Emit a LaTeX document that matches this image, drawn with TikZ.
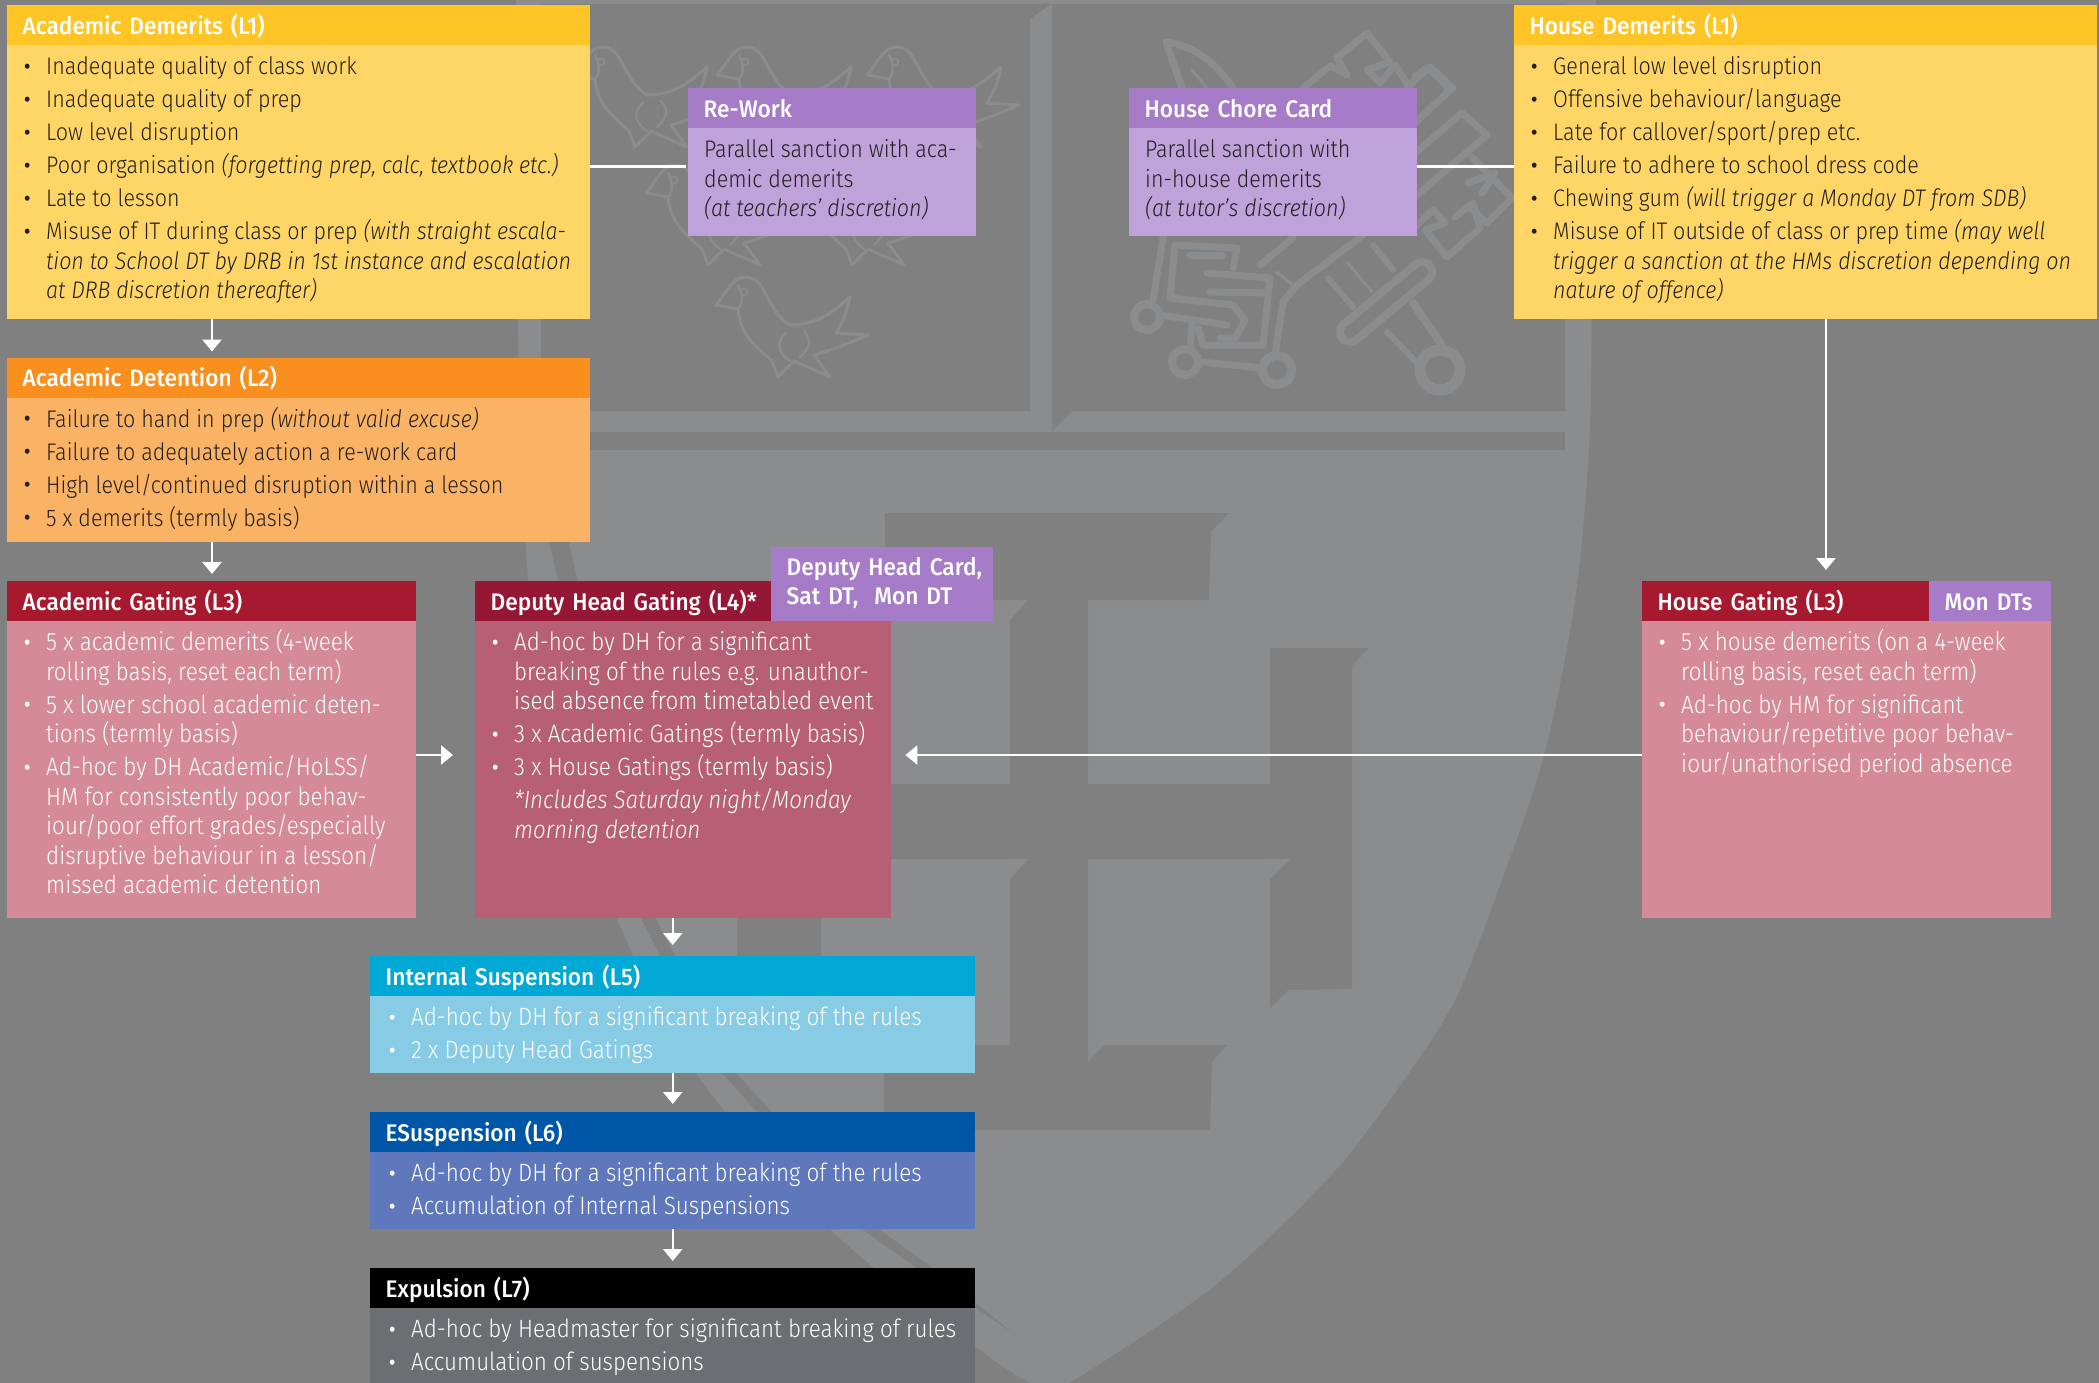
\documentclass[tikz,border=0pt]{standalone}
\usepackage{fontspec}
\setmainfont{Fira Sans Light}[ItalicFont={Fira Sans Light Italic},FakeStretch=0.895]
\newfontfamily\titlefont{Fira Sans Medium}[FakeStretch=0.945]
\usetikzlibrary{arrows.meta}
\definecolor{bgdark}{HTML}{808080}
\definecolor{bglight}{HTML}{8B8C8E}
\definecolor{inkdark}{HTML}{231F20}
\definecolor{yellowH}{HTML}{FFC425}
\definecolor{yellowB}{HTML}{FFD566}
\definecolor{orangeH}{HTML}{F98F1E}
\definecolor{orangeB}{HTML}{FAB264}
\definecolor{redH}{HTML}{A6192E}
\definecolor{redB}{HTML}{D58B97}
\definecolor{wineH}{HTML}{961735}
\definecolor{wineB}{HTML}{B75F75}
\definecolor{cyanH}{HTML}{00A8D6}
\definecolor{cyanB}{HTML}{87CBE5}
\definecolor{navyH}{HTML}{0056A6}
\definecolor{navyB}{HTML}{5E78BB}
\definecolor{blackB}{HTML}{6D6E71}
\definecolor{purpH}{HTML}{A67BC8}
\definecolor{purpB}{HTML}{BFA2DA}
\newcommand{\bodyfs}{\fontsize{24}{29.5}\selectfont}
\newcommand{\whitefs}{\color{white}\fontsize{25}{29.5}\selectfont}
\newcommand{\blist}[4]{% height, width, left indent, content
  \parbox[t][#1][t]{#2}{\raggedright\bodyfs\setlength{\leftskip}{#3}\setlength{\parskip}{3.5pt}\lineskiplimit=-100pt
  \setlength{\parindent}{0pt}#4}}
\newcommand{\firstline}{\rule{0pt}{26pt}}
\newcommand{\bul}{\leavevmode\llap{\makebox[0pt][c]{\raisebox{1.5pt}{\titlefont\fontsize{20}{20}\selectfont\textbullet}}\hskip 19pt}}
\newcommand{\fbul}{\firstline\bul}
\tikzset{
  hdr/.style={rectangle,anchor=north west,inner ysep=0pt,inner xsep=15.5pt,minimum height=40pt,text=white,
    font=\titlefont\fontsize{24}{29}\selectfont,text height=22pt,text depth=4pt,align=left},
  bodyb/.style={rectangle,anchor=north west,inner sep=0pt},
  conn/.style={draw=white,line width=2.6pt},
  arr/.style={draw=white,line width=2.4pt,-{Triangle[width=19pt,length=12pt,fill=white]}},
  crest/.style={draw=bglight,line width=7pt,line join=round,line cap=round,fill=none},
  thincrest/.style={draw=bglight,line width=3pt,line join=round,line cap=round,fill=none},
  dk/.style={fill=bgdark,draw=none}
}
\newcommand{\bird}[2]{%
\begin{scope}[shift={(#1,#2)}]
\draw[thincrest] (0,0) .. controls (-14,0) and (-18,14) .. (-30,28) -- (-8,32) .. controls (-6,60) and (14,72) .. (26,84) -- (32,100) -- (48,84) -- (84,100) -- (68,78) .. controls (96,70) and (112,62) .. (122,58) -- (90,56) .. controls (98,44) and (102,30) .. (104,20) .. controls (88,34) and (72,48) .. (44,48) .. controls (30,40) and (24,24) .. (18,14) .. controls (14,6) and (8,0) .. (0,0);
\draw[thincrest,line width=2pt] (-2,15) circle (3.5pt);
\draw[thincrest,line width=2.5pt] (-8,32) .. controls (-2,26) and (-4,16) .. (-8,8);
\draw[thincrest,line width=2.5pt] (40,56) .. controls (28,66) and (34,78) .. (44,84);
\draw[thincrest,line width=2.5pt] (58,54) .. controls (66,62) and (64,72) .. (54,80);
\end{scope}}
\begin{document}
\begin{tikzpicture}[x=1pt,y=-1pt]
\useasboundingbox (0,0) rectangle (2099,1383);
\fill[bgdark] (0,0) rectangle (2099,1383);
% shield
\fill[bglight] plot[smooth] coordinates {(516,-5) (516,200) (520,400) (530,600) (560,760) (616,917) (696,1073) (830,1229) (980,1350) (1030,1383) (1050,1393)} -- plot[smooth] coordinates {(1050,1393) (1070,1383) (1147,1333) (1213,1287) (1280,1227) (1347,1157) (1413,1067) (1455,1000) (1492,907) (1543,759) (1575,600) (1589,448) (1592,300) (1596,-5)} -- cycle;
\path[dk] (541,4) -- (1051,4) -- (1030,19) -- (1030,411) -- (541,411) -- cycle;
\path[dk] (1052,4) -- (1565,4) -- (1565,411) -- (1072,411) -- (1052,431) -- cycle;
\path[dk] (541,432) rectangle (1565,450);
% inner stripe
\path[dk] (546,530) -- (640,917) -- (722,1073) -- (757,1112) -- (862,1229) -- (915,1267) -- (1013,1333) -- (925,1262) -- (878,1229) -- (772,1112) -- (736,1073) -- (655,917) -- (566,530) -- cycle;
% cross
\path[dk] (885,513) -- (1229,513) -- (1211,532) -- (1209,600) -- (1088,600) -- (1088,784) -- (1270,784) -- (1270,648) -- (1369,648) -- (1352,666) -- (1352,989) -- (1288,990) -- (1270,1008) -- (1270,859) -- (1088,859) -- (1088,1045) -- (1227,1045) -- (1212,1062) -- (1210,1130) -- (884,1130) -- (884,1045) -- (1010,1045) -- (1010,859) -- (821,859) -- (821,960) -- (737,960) -- (737,784) -- (1010,784) -- (1010,600) -- (885,600) -- cycle;
\fill[bglight] (1088,784) -- (1088,768) -- (1104,784) -- cycle;
\fill[bglight] (1088,1045) -- (1088,1062) -- (1104,1045) -- cycle;
\fill[bglight] (1010,600) -- (1010,620) -- (1028,600) -- cycle;
\fill[bglight] (1010,859) -- (1010,879) -- (1028,859) -- cycle;
\fill[bglight] (1270,859) -- (1270,879) -- (1290,859) -- cycle;
% birds
\bird{603}{47}\bird{747}{47}\bird{897}{47}\bird{676}{165}\bird{820}{165}\bird{746}{277}
% crossed sword and key: upper part
\draw[crest] (1182,88) -- (1166,42) .. controls (1195,46) and (1215,62) .. (1233,88);
\draw[thincrest] (1192,70) -- (1207,88);
\draw[crest] (1303,88) -- (1330,66) -- (1347,75) -- (1337,58) -- (1367,33) -- (1390,62) -- (1367,70) -- (1380,83) -- (1395,65) -- (1410,88);
\draw[crest] (1407,87) -- (1430,67) -- (1453,88);
\draw[crest] (1415,77) -- (1428,67) -- (1450,90) -- (1415,123);
\draw[crest] (1415,153) -- (1462,113) -- (1487,135) -- (1415,197);
\draw[crest] (1472,157) -- (1512,198) -- (1487,223) -- (1470,207);
\draw[crest] (1468,183) -- (1495,173) -- (1482,193);
\draw[crest] (1455,217) -- (1473,203) -- (1480,228) -- (1447,257) -- (1425,230) -- (1445,223) -- (1433,210) -- (1415,227);
% sword guard, pommel
\draw[draw=bglight,line width=28pt,line cap=round] (1350,332) -- (1422,272);
\draw[draw=bgdark,line width=12pt,line cap=round] (1350,332) -- (1422,272);
\draw[bglight,line width=11pt] (1440,370) circle (20pt);
\draw[crest,line width=6pt] (1387,332) -- (1417,363);
\draw[crest,line width=8pt] (1413,303) -- (1442,345);
\draw[crest,line width=6pt] (1373,245) -- (1393,270);
\draw[crest,line width=6pt] (1328,278) -- (1353,307);
\draw[thincrest] (1347,262) -- (1372,292);
% key shaft and meander
\draw[crest] (1363,235) -- (1297,285) -- (1283,302) -- (1275,355);
\draw[crest] (1260,265) -- (1293,238);
\draw[thincrest] (1277,272) -- (1295,287);
\draw[bglight,line width=9pt] (1277,370) circle (14.5pt);
\draw[bglight,line width=8pt] (1147,317) circle (13pt);
\draw[bglight,line width=8pt] (1185,362) circle (13pt);
\draw[crest] (1153,300) -- (1163,238);
\draw[crest] (1160,315) -- (1227,325);
\draw[crest] (1192,325) -- (1190,348);
\draw[crest] (1200,362) -- (1263,368);
\draw[crest] (1233,268) -- (1237,248) -- (1175,245) -- (1170,298) -- (1233,305) -- (1245,320) -- (1235,338) -- (1220,338);
\draw[crest] (1190,255) -- (1223,255);
\draw[crest] (1207,273) -- (1270,278) -- (1263,345) -- (1203,345) -- (1198,328);
\draw[crest] (1210,292) -- (1268,293);
% helper coordinates for connectors
\coordinate (rowA) at (0,166.5);
\coordinate (rowB) at (0,755);
\coordinate (colA) at (212,0);
\coordinate (colH) at (1826,0);
% boxes
\node[hdr,fill=yellowH,text width=552pt] (adh) at (7,5) {Academic Demerits (L1)};
\node[bodyb,fill=yellowB] (adb) at (7,45) {\blist{274pt}{583pt}{39pt}{\color{inkdark}
\fbul Inadequate quality of class work\par
\bul Inadequate quality of prep\par
\bul Low level disruption\par
\bul Poor organisation \textit{(forgetting prep, calc, textbook etc.)}\par
\bul Late to lesson\par
\bul Misuse of IT during class or prep \textit{(with straight escala-\\
tion to School DT by DRB in 1st instance and escalation\\
at DRB discretion thereafter)}}};
\node[hdr,fill=orangeH,text width=552pt] (deth) at (7,357.5) {Academic Detention (L2)};
\node[bodyb,fill=orangeB] (detb) at (7,397.5) {\blist{144.5pt}{583pt}{39pt}{\color{inkdark}
\fbul Failure to hand in prep \textit{(without valid excuse)}\par
\bul Failure to adequately action a re-work card\par
\bul High level/continued disruption within a lesson\par
\bul 5 x demerits (termly basis)}};
\node[hdr,fill=purpH,text width=257pt] (rwh) at (688,88) {Re-Work};
\node[bodyb,fill=purpB] (rwb) at (688,128) {\blist{108pt}{288pt}{16pt}{\color{inkdark}
\firstline Parallel sanction with aca-\\
demic demerits\\
\textit{(at teachers’ discretion)}}};
\node[hdr,fill=purpH,text width=257pt] (hch) at (1129,88) {House Chore Card};
\node[bodyb,fill=purpB] (hcb) at (1129,128) {\blist{108pt}{288pt}{16pt}{\color{inkdark}
\firstline Parallel sanction with\\
in-house demerits\\
\textit{(at tutor’s discretion)}}};
\node[hdr,fill=yellowH,text width=552pt] (hdh) at (1514,5) {House Demerits (L1)};
\node[bodyb,fill=yellowB] (hdb) at (1514,45) {\blist{274pt}{583pt}{39pt}{\color{inkdark}
\fbul General low level disruption\par
\bul Offensive behaviour/language\par
\bul Late for callover/sport/prep etc.\par
\bul Failure to adhere to school dress code\par
\bul Chewing gum \textit{(will trigger a Monday DT from SDB)}\par
\bul Misuse of IT outside of class or prep time \textit{(may well\\
trigger a sanction at the HMs discretion depending on\\
nature of offence)}}};
\node[hdr,fill=redH,text width=378pt] (agh) at (7,581) {Academic Gating (L3)};
\node[bodyb,fill=redB] (agb) at (7,621) {\blist{297pt}{409pt}{39pt}{\whitefs
\fbul 5 x academic demerits (4-week\\
rolling basis, reset each term)\par
\bul 5 x lower school academic deten-\\
tions (termly basis)\par
\bul Ad-hoc by DH Academic/HoLSS/\\
HM for consistently poor behav-\\
iour/poor effort grades/especially\\
disruptive behaviour in a lesson/\\
missed academic detention}};
\node[hdr,fill=wineH,text width=385pt] (dhh) at (475,581) {Deputy Head Gating (L4)*};
\node[bodyb,fill=wineB] (dhb) at (475,621) {\blist{297pt}{416pt}{39pt}{\whitefs
\fbul Ad-hoc by DH for a significant\\
breaking of the rules e.g. unauthor-\\
ised absence from timetabled event\par
\bul 3 x Academic Gatings (termly basis)\par
\bul 3 x House Gatings (termly basis)\par
\textit{*Includes Saturday night/Monday\\
morning detention}}};
\node[hdr,fill=purpH,anchor=north west,text width=191pt,minimum height=74pt,text height=22pt,text depth=40pt,inner xsep=15.5pt] (card) at (771,547) {\makebox[191pt][l]{Deputy Head Card,}\\\makebox[191pt][l]{Sat DT,\ \ Mon DT}};
\node[hdr,fill=redH,text width=378pt] (hgh) at (1642,581) {House Gating (L3)};
\node[hdr,fill=purpH,text width=91pt] (mon) at (1929,581) {Mon DTs};
\node[bodyb,fill=redB] (hgb) at (1642,621) {\blist{297pt}{409pt}{39pt}{\whitefs
\fbul 5 x house demerits (on a 4-week\\
rolling basis, reset each term)\par
\bul Ad-hoc by HM for significant\\
behaviour/repetitive poor behav-\\
iour/unathorised period absence}};
\node[hdr,fill=cyanH,text width=574pt] (ish) at (370,956) {Internal Suspension (L5)};
\node[bodyb,fill=cyanB] (isb) at (370,996) {\blist{77pt}{605pt}{41pt}{\whitefs
\fbul Ad-hoc by DH for a significant breaking of the rules\par
\bul 2 x Deputy Head Gatings}};
\node[hdr,fill=navyH,text width=574pt] (esh) at (370,1112) {ESuspension (L6)};
\node[bodyb,fill=navyB] (esb) at (370,1152) {\blist{77pt}{605pt}{41pt}{\whitefs
\fbul Ad-hoc by DH for a significant breaking of the rules\par
\bul Accumulation of Internal Suspensions}};
\node[hdr,fill=black,text width=574pt] (exh) at (370,1268) {Expulsion (L7)};
\node[bodyb,fill=blackB] (exb) at (370,1308) {\blist{75pt}{605pt}{41pt}{\whitefs
\fbul Ad-hoc by Headmaster for significant breaking of rules\par
\bul Accumulation of suspensions}};
% connectors
\draw[conn] (adb.north east |- rowA) -- ([xshift=-2pt]rwb.west |- rowA);
\draw[conn] (hcb.north east |- rowA) -- (hdb.north west |- rowA);
\draw[arr,shorten >=6pt] (adb.south -| colA) -- (deth.north -| colA);
\draw[arr,shorten >=7pt] (detb.south -| colA) -- (agh.north -| colA);
\draw[arr,shorten >=11pt] (hdb.south -| colH) -- (hgh.north -| colH);
\draw[arr,shorten >=22pt] (agb.east |- rowB) -- (dhb.west |- rowB);
\draw[arr] (hgb.west |- rowB) -- ([xshift=14pt]dhb.east |- rowB);
\draw[arr,shorten >=11pt] (dhb.south -| ish.north) -- (ish.north);
\draw[arr,shorten >=8pt] (isb.south) -- (esh.north);
\draw[arr,shorten >=7pt] (esb.south) -- (exh.north);
\end{tikzpicture}
\end{document}
